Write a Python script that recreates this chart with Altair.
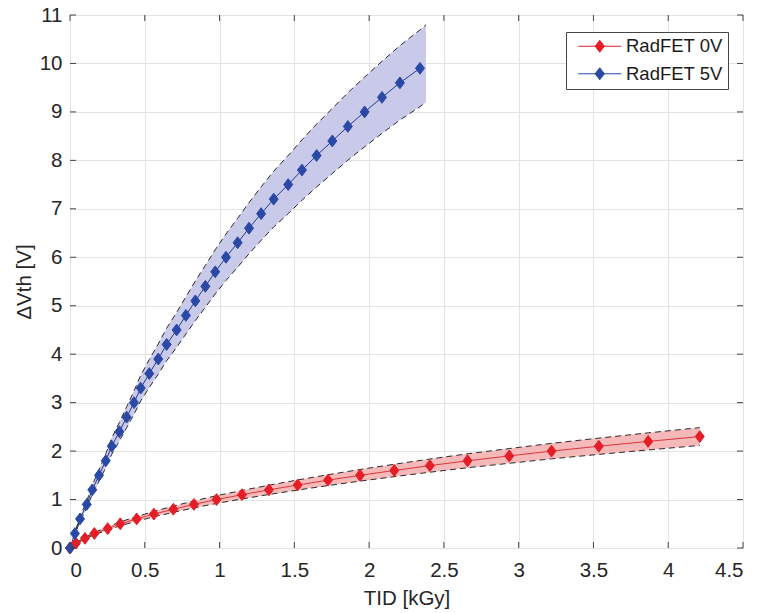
import altair as alt
import pandas as pd

# ---- data ----
series_names = ["RadFET 0V", "RadFET 5V"]

red_x = [0, 0.040, 0.100, 0.163, 0.252, 0.336, 0.446, 0.561, 0.691, 0.829, 0.980, 1.150,
         1.330, 1.522, 1.725, 1.939, 2.168, 2.406, 2.658, 2.937, 3.220, 3.536, 3.866, 4.211]
red_y = [0, 0.1, 0.2, 0.3, 0.4, 0.5, 0.6, 0.7, 0.8, 0.9, 1.0, 1.1,
         1.2, 1.3, 1.4, 1.5, 1.6, 1.7, 1.8, 1.9, 2.0, 2.1, 2.2, 2.3]
red_band_x = red_x
red_upper = [0, 0.108, 0.216, 0.324, 0.432, 0.54, 0.648, 0.756, 0.864, 0.972, 1.08, 1.188,
             1.296, 1.404, 1.512, 1.62, 1.728, 1.836, 1.944, 2.052, 2.16, 2.268, 2.376, 2.484]
red_lower = [0, 0.092, 0.184, 0.276, 0.368, 0.46, 0.552, 0.644, 0.736, 0.828, 0.92, 1.012,
             1.104, 1.196, 1.288, 1.38, 1.472, 1.564, 1.656, 1.748, 1.84, 1.932, 2.024, 2.116]

blue_x = [0, 0.033, 0.067, 0.112, 0.149, 0.194, 0.239, 0.279, 0.330, 0.379, 0.428, 0.473,
          0.530, 0.590, 0.646, 0.713, 0.775, 0.838, 0.905, 0.971, 1.043, 1.121, 1.197, 1.278,
          1.362, 1.459, 1.551, 1.649, 1.754, 1.858, 1.970, 2.086, 2.206, 2.340]
blue_y = [0, 0.3, 0.6, 0.9, 1.2, 1.5, 1.8, 2.1, 2.4, 2.7, 3.0, 3.3,
          3.6, 3.9, 4.2, 4.5, 4.8, 5.1, 5.4, 5.7, 6.0, 6.3, 6.6, 6.9,
          7.2, 7.5, 7.8, 8.1, 8.4, 8.7, 9.0, 9.3, 9.6, 9.9]
blue_band_x = blue_x + [2.380]
blue_upper = [0, 0.324, 0.648, 0.972, 1.296, 1.62, 1.944, 2.268, 2.592, 2.916, 3.24, 3.564,
              3.888, 4.212, 4.536, 4.86, 5.184, 5.508, 5.832, 6.156, 6.48, 6.804, 7.128, 7.452,
              7.776, 8.1, 8.424, 8.748, 9.072, 9.396, 9.72, 10.044, 10.368, 10.692, 10.80]
blue_lower = [0, 0.276, 0.552, 0.828, 1.104, 1.38, 1.656, 1.932, 2.208, 2.484, 2.76, 3.036,
              3.312, 3.588, 3.864, 4.14, 4.416, 4.692, 4.968, 5.244, 5.52, 5.796, 6.072, 6.348,
              6.624, 6.9, 7.176, 7.452, 7.728, 8.004, 8.28, 8.556, 8.832, 9.108, 9.20]

x_ticks = [0, 0.5, 1, 1.5, 2, 2.5, 3, 3.5, 4, 4.5]
y_ticks = [0, 1, 2, 3, 4, 5, 6, 7, 8, 9, 10, 11]

# ---- tables ----
pts = pd.DataFrame({
    "x": red_x + blue_x,
    "y": red_y + blue_y,
    "series": [series_names[0]] * len(red_x) + [series_names[1]] * len(blue_x),
})
red_band = pd.DataFrame({"x": red_band_x, "up": red_upper, "lo": red_lower, "series": series_names[0]})
blue_band = pd.DataFrame({"x": blue_band_x, "up": blue_upper, "lo": blue_lower, "series": series_names[1]})
bands = pd.concat([red_band, blue_band], ignore_index=True)
xt = pd.DataFrame({"v": x_ticks})
yt = pd.DataFrame({"v": y_ticks})

W, H = 673, 533
FONT = "Liberation Sans"
AX_FS = 20.5
LEG_FS = 18.5

xs = alt.Scale(domain=[0, 4.5], nice=False)
ys = alt.Scale(domain=[0, 11], nice=False)
marker_scale = alt.Scale(domain=series_names, range=["#e41e26", "#2a48a6"])
line_scale = alt.Scale(domain=series_names, range=["#d9363b", "#25398f"])

X = alt.X("x:Q", scale=xs, axis=alt.Axis(values=x_ticks, format="~g", title="TID [kGy]"))
Y = alt.Y("y:Q", scale=ys, axis=alt.Axis(values=y_ticks, format="d", title="\u0394Vth [V]"))

band_red = alt.Chart(red_band).mark_area(color="#f6b9b9", opacity=1).encode(
    x=alt.X("x:Q", scale=xs), y=alt.Y("up:Q", scale=ys), y2="lo:Q")
band_blue = alt.Chart(blue_band).mark_area(color="#c9c9ea", opacity=1).encode(
    x=alt.X("x:Q", scale=xs), y=alt.Y("up:Q", scale=ys), y2="lo:Q")

dash_up = alt.Chart(bands).mark_line(color="#2b2b2b", strokeDash=[6, 4], strokeWidth=1).encode(
    x=alt.X("x:Q", scale=xs), y=alt.Y("up:Q", scale=ys), detail="series:N")
dash_lo = alt.Chart(bands).mark_line(color="#2b2b2b", strokeDash=[6, 4], strokeWidth=1).encode(
    x=alt.X("x:Q", scale=xs), y=alt.Y("lo:Q", scale=ys), detail="series:N")

# legend symbol: a 43 px line with a diamond in its middle (symbol box 16 px)
legend = alt.Legend(
    title=None, orient="none", legendX=496, legendY=17,
    symbolType="M-2.69,0L2.69,0M0,-0.75L0.575,0L0,0.75L-0.575,0Z", symbolSize=256,
    symbolOffset=19.5, labelOffset=17,
    symbolStrokeWidth=1, symbolOpacity=1, labelFont=FONT, labelFontSize=LEG_FS,
    labelColor="#1a1a1a", strokeColor="#444444", fillColor="white",
    padding=5, rowPadding=8.5, cornerRadius=0,
)

lines = alt.Chart(pts).mark_line(strokeWidth=1).encode(
    x=X, y=Y, color=alt.Color("series:N", scale=line_scale, legend=None))
markers = alt.Chart(pts).mark_point(
    shape="M0,-1L0.76,0L0,1L-0.76,0Z", size=140, opacity=1, strokeWidth=1).encode(
    x=alt.X("x:Q", scale=xs), y=alt.Y("y:Q", scale=ys),
    fill=alt.Fill("series:N", scale=marker_scale, legend=legend),
    stroke=alt.Stroke("series:N", scale=marker_scale, legend=legend))

# inward tick marks on all four sides (MATLAB box style)
tick_col = "#444444"
tb = alt.Chart(xt).mark_rule(color=tick_col).encode(
    x=alt.X("v:Q", scale=xs), y=alt.value(H), y2=alt.value(H - 6))
tt = alt.Chart(xt).mark_rule(color=tick_col).encode(
    x=alt.X("v:Q", scale=xs), y=alt.value(0), y2=alt.value(6))
tl = alt.Chart(yt).mark_rule(color=tick_col).encode(
    y=alt.Y("v:Q", scale=ys), x=alt.value(0), x2=alt.value(6))
tr = alt.Chart(yt).mark_rule(color=tick_col).encode(
    y=alt.Y("v:Q", scale=ys), x=alt.value(W), x2=alt.value(W - 6))

chart = alt.layer(
    band_red, band_blue, dash_up, dash_lo, lines, markers, tb, tt, tl, tr
).resolve_scale(
    color="independent"
).properties(
    width=W, height=H,
    autosize=alt.AutoSizeParams(type="none"),
    padding={"left": 70, "top": 15, "right": 17, "bottom": 65},
).configure_view(
    stroke="#444444", strokeWidth=1
).configure_axis(
    labelFont=FONT, labelFontSize=AX_FS, labelColor="#262626",
    titleFont=FONT, titleFontSize=AX_FS, titleColor="#262626", titleFontWeight="normal",
    grid=True, gridColor="#e3e3e3", gridWidth=1,
    domain=False, ticks=False, labelPadding=8,
).configure_axisX(
    labelPadding=12, titlePadding=8
).configure_axisY(
    titlePadding=5
)

chart.save("out.html", embed_options={"renderer": "svg", "actions": False})
